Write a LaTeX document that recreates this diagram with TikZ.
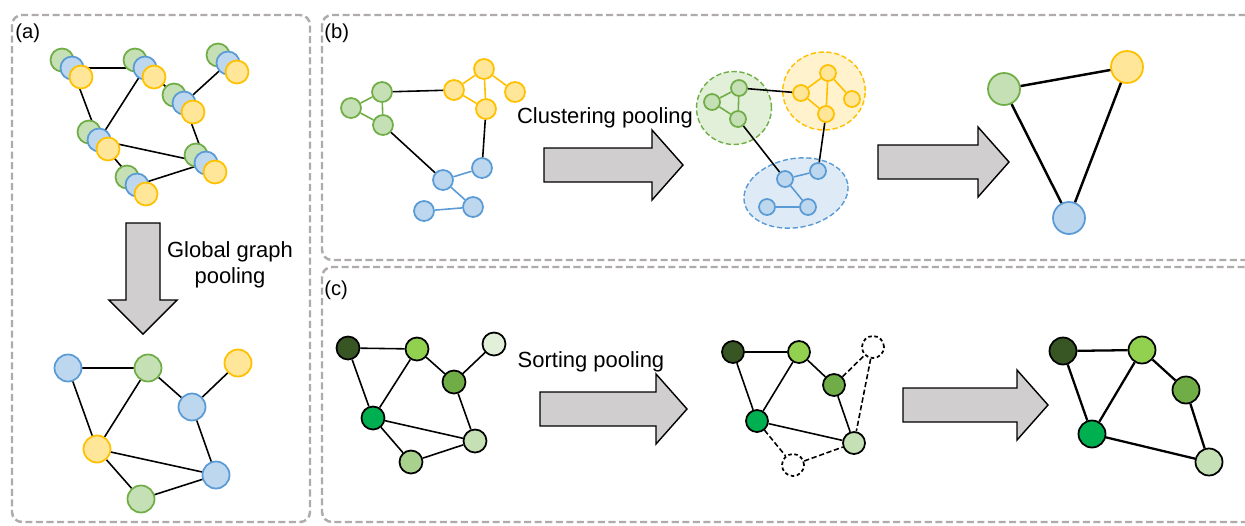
\documentclass[tikz,border=0pt]{standalone}
\usepackage{fontspec}
\setmainfont{Liberation Sans}
\usepackage{tikz}
\usetikzlibrary{shapes.geometric}

\definecolor{boxGray}{RGB}{175,171,171}
\definecolor{arrGray}{RGB}{208,206,206}
\definecolor{grnLine}{HTML}{70AD47}
\definecolor{grnFill}{HTML}{C5E0B4}
\definecolor{grnPale}{HTML}{E2F0D9}
\definecolor{bluLine}{HTML}{5B9BD5}
\definecolor{bluFill}{HTML}{BDD7EE}
\definecolor{bluPale}{HTML}{DEEBF7}
\definecolor{ylwLine}{HTML}{FFC000}
\definecolor{ylwFill}{HTML}{FFE699}
\definecolor{ylwPale}{HTML}{FFF2CC}
\definecolor{gDark}{HTML}{375623}
\definecolor{gLime}{HTML}{92D050}
\definecolor{gMid}{HTML}{70AD47}
\definecolor{gBright}{HTML}{00B050}
\definecolor{gSoft}{HTML}{A9D18E}

\begin{document}
\begin{tikzpicture}[x=0.02cm,y=-0.02cm,
  panel/.style={draw=boxGray, line width=1.4pt, dash pattern=on 4pt off 2pt, rounded corners=0.2cm},
  vtx/.style={circle, inner sep=0pt, line width=1pt},
  grn/.style={vtx, draw=grnLine, fill=grnFill},
  blu/.style={vtx, draw=bluLine, fill=bluFill},
  ylw/.style={vtx, draw=ylwLine, fill=ylwFill},
  shade/.style={vtx, draw=black, fill=#1},
  gone/.style={vtx, draw=black, fill=white, dash pattern=on 2pt off 1.5pt},
  edge/.style={line width=0.9pt},
  cluster/.style={ellipse, line width=0.8pt, dash pattern=on 3pt off 1.5pt},
  fatarrow/.style={draw=black, fill=arrGray, line width=0.8pt},
  txt/.style={inner sep=0pt, font=\fontsize{12.5}{15}\selectfont},
  lbl/.style={inner sep=0pt, anchor=west, font=\fontsize{11.5}{14}\selectfont}]
\def\fatright#1#2#3{\draw[fatarrow] (#1,#3-17) -- (#2-31,#3-17) -- (#2-31,#3-35)
  -- (#2,#3) -- (#2-31,#3+35) -- (#2-31,#3+17) -- (#1,#3+17) -- cycle;}
\useasboundingbox (0,0) rectangle (1245,525);

% frames
\draw[panel] (12,15) rectangle (310,522);
\draw[panel] (322,15) rectangle (1262,260);
\draw[panel] (322,267) rectangle (1262,522);
\node[lbl] (labA) at (15,33) {(a)};
\node[lbl] (labB) at (324,33) {(b)};
\node[lbl] (labC) at (324,290) {(c)};

% (a) stacked features, then pooled graph
\foreach \n/\x/\y in {1/72/68, 2/145/68, 3/228/63, 4/184/103, 5/99/140, 6/206/163, 7/137/185}
  \coordinate (t\n) at (\x,\y);
\draw[edge] (t1) -- (t2) (t1) -- (t5) (t2) -- (t5) (t2) -- (t4) (t3) -- (t4)
  (t4) -- (t6) (t5) -- (t6) (t5) -- (t7) (t7) -- (t6);
\begin{scope}[every node/.append style={minimum size=0.46cm}]
\foreach \n in {1,...,7} {
  \node[grn] (t\n g) at ([shift={(-10,-8)}]t\n) {};
  \node[blu] (t\n b) at (t\n) {};
  \node[ylw] (t\n y) at ([shift={(9,9)}]t\n) {};
}
\end{scope}

\draw[fatarrow] (126,223) -- (160,223) -- (160,300) -- (177,300) -- (143,334)
  -- (109,300) -- (126,300) -- cycle;
\node[txt, align=center] (txtA) at (230,265) {Global graph\\pooling};

\begin{scope}[every node/.append style={minimum size=0.54cm}]
\node[blu] (p1) at (68,368) {};
\node[grn] (p2) at (148,368) {};
\node[ylw] (p3) at (238,363) {};
\node[blu] (p4) at (192,407) {};
\node[ylw] (p5) at (97,449) {};
\node[blu] (p6) at (216,475) {};
\node[grn] (p7) at (141,499) {};
\end{scope}
\draw[edge] (p1) -- (p2) (p1) -- (p5) (p2) -- (p5) (p2) -- (p4) (p3) -- (p4)
  (p4) -- (p6) (p5) -- (p6) (p5) -- (p7) (p7) -- (p6);

% (b) clustering
\begin{scope}[every node/.append style={minimum size=0.4cm}]
\node[grn] (bg1) at (382,92) {};
\node[grn] (bg2) at (351,108) {};
\node[grn] (bg3) at (383,125) {};
\node[ylw] (by1) at (484,69) {};
\node[ylw] (by2) at (454,90) {};
\node[ylw] (by3) at (515,92) {};
\node[ylw] (by4) at (486,109) {};
\node[blu] (bb1) at (443,180) {};
\node[blu] (bb2) at (482,168) {};
\node[blu] (bb3) at (473,207) {};
\node[blu] (bb4) at (424,211) {};
\end{scope}
\draw[edge, grnLine] (bg1) -- (bg2) -- (bg3) -- (bg1);
\draw[edge, ylwLine] (by2) -- (by1) -- (by4) -- (by2) (by1) -- (by3);
\draw[edge, bluLine] (bb2) -- (bb1) -- (bb3) -- (bb4);
\draw[edge] (bg1) -- (by2) (bg3) -- (bb1) (by4) -- (bb2);

\node[txt] (txtB) at (605,118) {Clustering pooling};
\fatright{544}{683}{165}

\node[cluster, draw=grnLine, fill=grnPale, minimum width=1.5cm, minimum height=1.46cm] (clG) at (734,108) {};
\node[cluster, draw=ylwLine, fill=ylwPale, minimum width=1.65cm, minimum height=1.56cm] (clY) at (824,91) {};
\node[cluster, draw=bluLine, fill=bluPale, minimum width=2.1cm, minimum height=1.38cm, rotate=10] (clB) at (796,193) {};
\begin{scope}[every node/.append style={minimum size=0.32cm}]
\node[grn] (cg1) at (739,88) {};
\node[grn] (cg2) at (712,102) {};
\node[grn] (cg3) at (738,119) {};
\node[ylw] (cy1) at (828,73) {};
\node[ylw] (cy2) at (801,93) {};
\node[ylw] (cy3) at (852,99) {};
\node[ylw] (cy4) at (826,114) {};
\node[blu] (cb1) at (785,179) {};
\node[blu] (cb2) at (818,171) {};
\node[blu] (cb3) at (808,207) {};
\node[blu] (cb4) at (767,207) {};
\end{scope}
\draw[edge, grnLine] (cg1) -- (cg2) -- (cg3) -- (cg1);
\draw[edge, ylwLine] (cy2) -- (cy1) -- (cy4) -- (cy2) (cy1) -- (cy3);
\draw[edge, bluLine] (cb2) -- (cb1) -- (cb3) -- (cb4);
\draw[edge] (cg1) -- (cy2) (cg3) -- (cb1) (cy4) -- (cb2);

\fatright{878}{1009}{162}

\begin{scope}[every node/.append style={minimum size=0.64cm, line width=1.4pt}]
\node[grn] (rg) at (1004,89) {};
\node[ylw] (ry) at (1127,67) {};
\node[blu] (rb) at (1069,218) {};
\end{scope}
\draw[edge, line width=1.4pt] (rg) -- (ry) -- (rb) -- (rg);

% (c) sorting
\begin{scope}[every node/.append style={minimum size=0.46cm}]
\node[shade=gDark] (s1) at (348,348) {};
\node[shade=gLime] (s2) at (417,349) {};
\node[shade=grnPale] (s3) at (494,344) {};
\node[shade=gMid] (s4) at (454,382) {};
\node[shade=gBright] (s5) at (373,418) {};
\node[shade=grnFill] (s6) at (475,441) {};
\node[shade=gSoft] (s7) at (411,462) {};
\end{scope}
\draw[edge] (s1) -- (s2) (s1) -- (s5) (s2) -- (s5) (s2) -- (s4) (s4) -- (s3)
  (s4) -- (s6) (s5) -- (s6) (s5) -- (s7) (s7) -- (s6);

\node[txt] (txtC) at (591,362) {Sorting pooling};
\fatright{540}{687}{409}

\begin{scope}[every node/.append style={minimum size=0.44cm}]
\node[shade=gDark] (m1) at (733,352) {};
\node[shade=gLime] (m2) at (799,352) {};
\node[gone] (m3) at (873,347) {};
\node[shade=gMid] (m4) at (834,385) {};
\node[shade=gBright] (m5) at (757,421) {};
\node[shade=grnFill] (m6) at (854,443) {};
\node[gone] (m7) at (793,465) {};
\end{scope}
\draw[edge] (m1) -- (m2) (m1) -- (m5) (m2) -- (m5) (m2) -- (m4) (m4) -- (m6) (m5) -- (m6);
\draw[edge, dash pattern=on 3pt off 1.5pt] (m4) -- (m3) -- (m6) (m5) -- (m7) -- (m6);

\fatright{903}{1048}{405}

\begin{scope}[every node/.append style={minimum size=0.54cm, line width=1.3pt}]
\node[shade=gDark] (k1) at (1063,351) {};
\node[shade=gLime] (k2) at (1142,350) {};
\node[shade=gMid] (k4) at (1186,390) {};
\node[shade=gBright] (k5) at (1092,434) {};
\node[shade=grnFill] (k6) at (1209,462) {};
\end{scope}
\draw[edge, line width=1.3pt] (k1) -- (k2) (k1) -- (k5) (k2) -- (k5) (k2) -- (k4)
  (k4) -- (k6) (k5) -- (k6);
\end{tikzpicture}
\end{document}
